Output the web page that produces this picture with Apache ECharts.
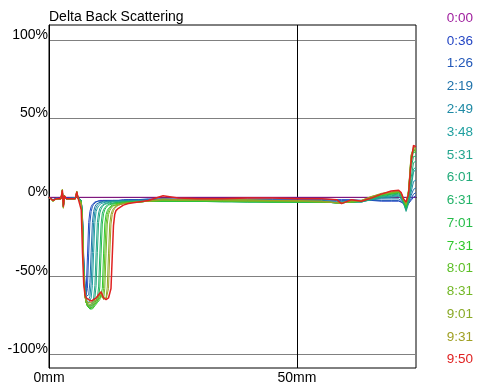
<!DOCTYPE html>
<html>
<head>
<meta charset="utf-8">
<script src="https://cdn.jsdelivr.net/npm/echarts@6/dist/echarts.min.js"></script>
<style>
html, body { margin: 0; padding: 0; background: #fff; }
#chart { width: 479px; height: 387px; }
</style>
</head>
<body>
<div id="chart"></div>
<script>
// sample height positions (mm)
const xMm = [
    0, 0.8, 1.5, 2.4, 2.7, 2.9, 3.1, 3.5, 4.5, 5.3, 5.6, 5.9, 6.2,
    6.5, 6.75, 7, 7.25, 7.5, 7.75, 8, 8.25, 8.5, 8.75, 9, 9.25, 9.5, 9.75, 10, 10.25, 10.5, 10.75, 11, 11.25, 11.5, 11.75, 12, 12.25, 12.5, 12.75, 13, 13.25, 13.5,
    14, 15, 16, 18, 20, 23, 26, 30, 35, 40, 45, 50, 55, 58, 59, 61, 63, 65, 67, 69, 70.5, 71, 71.5, 72, 72.5, 73, 73.5, 74
];

const times = ['0:00', '0:36', '1:26', '2:19', '2:49', '3:48', '5:31', '6:01', '6:31', '7:01', '7:31', '8:01', '8:31', '9:01', '9:31', '9:50'];
const colors = ['#a0209f', '#2446c4', '#2157b8', '#1f72aa', '#1f8aa5', '#20a0a0', '#22a58e', '#22ab7a', '#22b368', '#26bd4a', '#2ec82c', '#5cbf26', '#73b826', '#8aaa26', '#a0a024', '#e02222'];

// 0:00 is the reference scan
const refX = [0, 74];
const refY = [0, 0];

// delta back scattering (%)
const bs0036 = [
    0, -1.5, -0.5, -1, 3, -5, 0, -1, -0.5, -0.5, 2, -0.5, -0.5,
    -2, -12, -38, -55, -60, -38, -16, -9, -6, -4.5, -3.5, -3, -2.5, -2.5, -2.5, -2, -2, -2, -2, -2, -2, -2, -2, -2, -2, -2, -2, -2, -2,
    -2, -1.5, -1.5, -1.5, -1, -1, -1, -1, -1, -1, -1, -1, -1, -1.5, -1.5, -1.5, -2, -2, -2.5, -2.5, -2.5, -3, -4, -5, -4, -2, 0, 1
];
const bs0126 = [
    0, -1.5, -0.5, -1, 3, -5, 0.5, -1, -0.5, -0.5, 2.5, -0.5, -0.5,
    -2, -12, -40, -57, -62, -58, -36, -16, -9, -6, -4.5, -3.5, -3, -3, -2.5, -2.5, -2.5, -2, -2, -2, -2, -2, -2, -2, -2, -2, -2, -2, -2,
    -2, -2, -1.5, -1.5, -1.5, -1, -1.5, -1.5, -1.5, -1.5, -1.5, -1.5, -1.5, -2, -2, -2, -2, -2, -2, -2, -2, -3, -4, -6, -4, -1, 2, 3
];
const bs0219 = [
    0, -2, -0.5, -1, 3.5, -5, 0.5, -1, -0.5, -0.5, 2.5, -0.5, -0.5,
    -2, -13, -42, -58, -63, -64, -62, -54, -35, -16, -9, -6, -4.5, -4, -3.5, -3, -3, -3, -2.5, -2.5, -2.5, -2.5, -2.5, -2.5, -2.5, -2, -2, -2, -2,
    -2, -2, -2, -2, -1.5, -1.5, -1.5, -2, -2, -2, -2, -2, -2, -2.5, -2.5, -2, -2, -1.5, -1, -1, -1, -2, -4, -6, -3, 1, 5, 6
];
const bs0249 = [
    0, -2, -1, -1, 3.5, -5.5, 0.5, -1, -0.5, -0.5, 2.5, -0.5, -1,
    -2, -13, -42, -59, -64, -65, -65, -63, -55, -35, -16, -9, -6.5, -5, -4, -3.5, -3.5, -3, -3, -3, -3, -2.5, -2.5, -2.5, -2.5, -2.5, -2.5, -2.5, -2.5,
    -2.5, -2, -2, -2, -2, -2, -2, -2, -2, -2, -2.5, -2.5, -2.5, -3, -3, -2.5, -2.5, -1.5, -0.5, 0, 0.5, -1, -4, -7, -3, 3, 10, 11
];
const bs0348 = [
    0, -2, -1, -1, 4, -5.5, 0.5, -1, -1, -0.5, 3, -0.5, -1,
    -2, -13, -43, -60, -65, -66, -67, -66, -64, -56, -35, -16, -9, -7, -5.5, -4.5, -4, -3.5, -3.5, -3, -3, -3, -3, -3, -2.5, -2.5, -2.5, -2.5, -2.5,
    -2.5, -2.5, -2.5, -2, -2, -2, -2.5, -2.5, -2.5, -2.5, -2.5, -3, -3, -3.5, -3, -3, -3, -1.5, 0, 0.5, 1, 0, -4, -8, -3, 6, 16, 18
];
const bs0531 = [
    0, -2, -1, -1, 4, -6, 0.5, -1, -1, -0.5, 3, -0.5, -1,
    -2, -14, -44, -61, -66, -68, -69, -69, -68, -67, -64, -56, -35, -16, -10, -7, -6, -5, -4.5, -4, -3.5, -3.5, -3.5, -3, -3, -3, -3, -3, -3,
    -3, -3, -2.5, -2.5, -2.5, -2.5, -2.5, -2.5, -2.5, -2.5, -3, -3, -3, -3.5, -3.5, -3, -3, -1.5, 0, 1, 1.5, 0.5, -4, -9, -4, 8, 18, 19
];
const bs0601 = [
    0, -2, -1, -1, 4, -6, 1, -1, -1, -0.5, 3, -1, -1,
    -2, -14, -45, -61, -66, -68, -70, -70, -69, -68, -67, -64, -56, -35, -16, -10, -7.5, -6, -5, -4.5, -4, -4, -3.5, -3.5, -3.5, -3, -3, -3, -3,
    -3, -3, -3, -2.5, -2.5, -2.5, -2.5, -2.5, -2.5, -3, -3, -3, -3, -3.5, -3.5, -3, -3, -1, 0.5, 1.5, 2, 1, -3, -8, -2, 12, 22, 23
];
const bs0631 = [
    0, -2, -1, -1, 4, -6, 1, -1, -1, -1, 3, -1, -1,
    -2, -15, -46, -62, -67, -69, -70, -71, -70, -69, -68, -67, -66, -64, -57, -36, -17, -10, -8, -6.5, -5.5, -5, -4.5, -4, -4, -4, -3.5, -3.5, -3.5,
    -3.5, -3, -3, -3, -2.5, -2.5, -2.5, -2.5, -3, -3, -3, -3, -3, -3.5, -3.5, -3, -2.5, -1, 1, 2, 2.5, 1, -3, -7, 0, 18, 26, 26
];
const bs0701 = [
    0, -2, -1, -1, 4.5, -6, 1, -1, -1, -1, 3, -1, -1,
    -3, -16, -47, -62, -67, -69, -70, -71, -71, -70, -69, -68, -67, -66, -64, -57, -36, -17, -10.5, -8, -6.5, -5.5, -5, -4.5, -4.5, -4, -4, -4, -3.5,
    -3.5, -3, -3, -3, -2.5, -2.5, -2.5, -2.5, -2.5, -3, -3, -3, -3, -3.5, -3.5, -3, -2.5, -0.5, 1, 2, 3, 1.5, -2, -6, 2, 22, 29, 28
];
const bs0731 = [
    0, -2, -1, -1, 4.5, -6, 1, -1, -1, -1, 3.5, -1, -1,
    -3, -16, -48, -63, -67, -69, -70, -71, -71, -71, -70, -69, -68, -67, -66, -65, -64, -58, -36, -17, -11, -8.5, -7, -6, -5.5, -5, -4.5, -4.5, -4,
    -4, -3.5, -3, -3, -2.5, -2.5, -2.5, -2.5, -2.5, -2.5, -3, -3, -3, -3.5, -3.5, -3, -2.5, -0.5, 1.5, 2.5, 3, 2, -2, -6, 3, 24, 30, 29
];
const bs0801 = [
    0, -2.5, -1, -1, 4.5, -6.5, 1, -1, -1, -1, 3.5, -1, -1,
    -3, -17, -48, -63, -67, -69, -70, -70, -70, -70, -69, -68, -67, -66, -65, -64, -62, -64, -58, -36, -17, -11, -8.5, -7, -6, -5.5, -5, -5, -4.5,
    -4, -3.5, -3.5, -3, -2.5, -2, -2, -2, -2.5, -2.5, -2.5, -2.5, -3, -3.5, -3.5, -3, -2.5, 0, 1.5, 2.5, 3.5, 2, -2, -5, 4, 25, 30, 29
];
const bs0831 = [
    0, -2.5, -1, -1, 4.5, -6.5, 1, -1, -1, -1, 3.5, -1, -1.5,
    -3, -17, -49, -63, -67, -68, -69, -69, -69, -69, -68, -67, -66, -65, -64, -62, -61, -63, -65, -58, -36, -17, -11, -8.5, -7, -6, -5.5, -5, -5,
    -4.5, -4, -3.5, -3, -2.5, -2, -2, -2, -2, -2.5, -2.5, -2.5, -3, -3.5, -3.5, -3, -2, 0, 2, 3, 3.5, 2.5, -1.5, -5, 4, 26, 31, 30
];
const bs0901 = [
    0, -2.5, -1, -1, 5, -6.5, 1, -1, -1, -1, 3.5, -1, -1.5,
    -4, -18, -50, -63, -66, -67, -68, -68, -68, -68, -67, -66, -65, -64, -63, -62, -61, -62, -64, -65, -64, -57, -36, -17, -11, -8.5, -7, -6, -5.5,
    -5, -4, -3.5, -3, -2.5, -1.5, -2, -2, -2, -2, -2, -2.5, -2.5, -3.5, -3.5, -2.5, -2, 0.5, 2, 3, 4, 2.5, -1.5, -4, 5, 27, 31, 30
];
const bs0931 = [
    0, -2.5, -1, -1, 5, -7, 1, -1, -1, -1, 4, -1, -1.5,
    -5, -20, -51, -63, -66, -67, -67, -67, -67, -67, -66, -65, -64, -63, -62, -61, -61, -62, -64, -65, -65, -64, -58, -36, -17, -11, -8.5, -7, -6,
    -5, -4, -3.5, -3, -2.5, -1, -1.5, -1.5, -1.5, -1.5, -2, -2, -2.5, -3.5, -3.5, -2, -2, 0.5, 2.5, 3.5, 4, 3, -1, -4, 4, 26, 32, 31
];
const bs0950 = [
    0, -2, -1, -1, 4.5, -6, 1, -1, -1, -1, 3.5, -1, -2,
    -8, -35, -55, -62, -64, -65, -65, -66, -66, -66, -65, -65, -64, -63, -62, -61, -60, -62, -64, -65, -65, -65, -64, -63, -58, -38, -18, -11, -8.5,
    -7, -5, -4, -3, -2, 1, -0.5, -1, -1, -0.5, -0.5, -1, -1, -1.5, -4, -1.5, -2.5, -0.5, 2, 4, 4.5, 3, -1, -3, 2, 22, 33, 32
];

const curves = [refY, bs0036, bs0126, bs0219, bs0249, bs0348, bs0531, bs0601, bs0631, bs0701, bs0731, bs0801, bs0831, bs0901, bs0931, bs0950];

const yTicks = [-100, -50, 0, 50, 100];
const xTicks = [0, 50];

const font = 'Liberation Sans, Arial, sans-serif';
let myChart = echarts.init(document.getElementById('chart'));

let series = times.map((t, i) => {
    const xs = i === 0 ? refX : xMm;
    const ys = curves[i];
    return {
        name: t,
        type: 'line',
        data: xs.map((x, k) => [x, ys[k]]),
        symbol: 'none',
        showSymbol: false,
        lineStyle: { width: i === 15 ? 1.5 : 1, color: colors[i] },
        itemStyle: { color: colors[i] },
        emphasis: { disabled: true }
    };
});

let option = {
    animation: false,
    backgroundColor: '#fff',
    title: {
        text: 'Delta Back Scattering',
        left: 49,
        top: 10,
        padding: 0,
        textStyle: { fontSize: 14, fontWeight: 'normal', color: '#000', fontFamily: font }
    },
    legend: {
        orient: 'vertical',
        right: 6,
        top: 11.2,
        padding: 0,
        icon: 'none',
        itemWidth: 0,
        itemHeight: 14,
        itemGap: 8.77,
        selectedMode: false,
        textStyle: { fontSize: 13.5, lineHeight: 14, fontFamily: font },
        data: times.map((t, i) => ({ name: t, textStyle: { color: colors[i] } }))
    },
    grid: {
        left: 49,
        right: 63,
        top: 25,
        bottom: 19,
        show: true,
        borderColor: '#000',
        borderWidth: 1,
        outerBoundsMode: 'none'
    },
    xAxis: {
        type: 'value',
        min: 0,
        max: 74,
        interval: 50,
        axisLine: { show: true, lineStyle: { color: '#000', width: 1 } },
        axisTick: { show: false, customValues: xTicks },
        axisLabel: {
            customValues: xTicks,
            formatter: '{value}mm',
            color: '#000',
            fontSize: 14,
            margin: 3,
            fontFamily: font
        },
        splitLine: { show: true, lineStyle: { color: '#000', width: 1 } }
    },
    yAxis: {
        type: 'value',
        min: -108.5,
        max: 109.5,
        axisLine: { show: true, lineStyle: { color: '#000', width: 1 } },
        axisTick: { show: false, customValues: yTicks },
        axisLabel: {
            customValues: yTicks,
            formatter: '{value}%',
            color: '#000',
            fontSize: 14,
            lineHeight: 10,
            margin: 1,
            verticalAlign: 'bottom',
            fontFamily: font
        },
        splitLine: { show: true, lineStyle: { color: '#808080', width: 1 } }
    },
    series
};

myChart.setOption(option, true);
window.addEventListener('resize', () => {
    myChart.resize();
});
</script>
</body>
</html>
